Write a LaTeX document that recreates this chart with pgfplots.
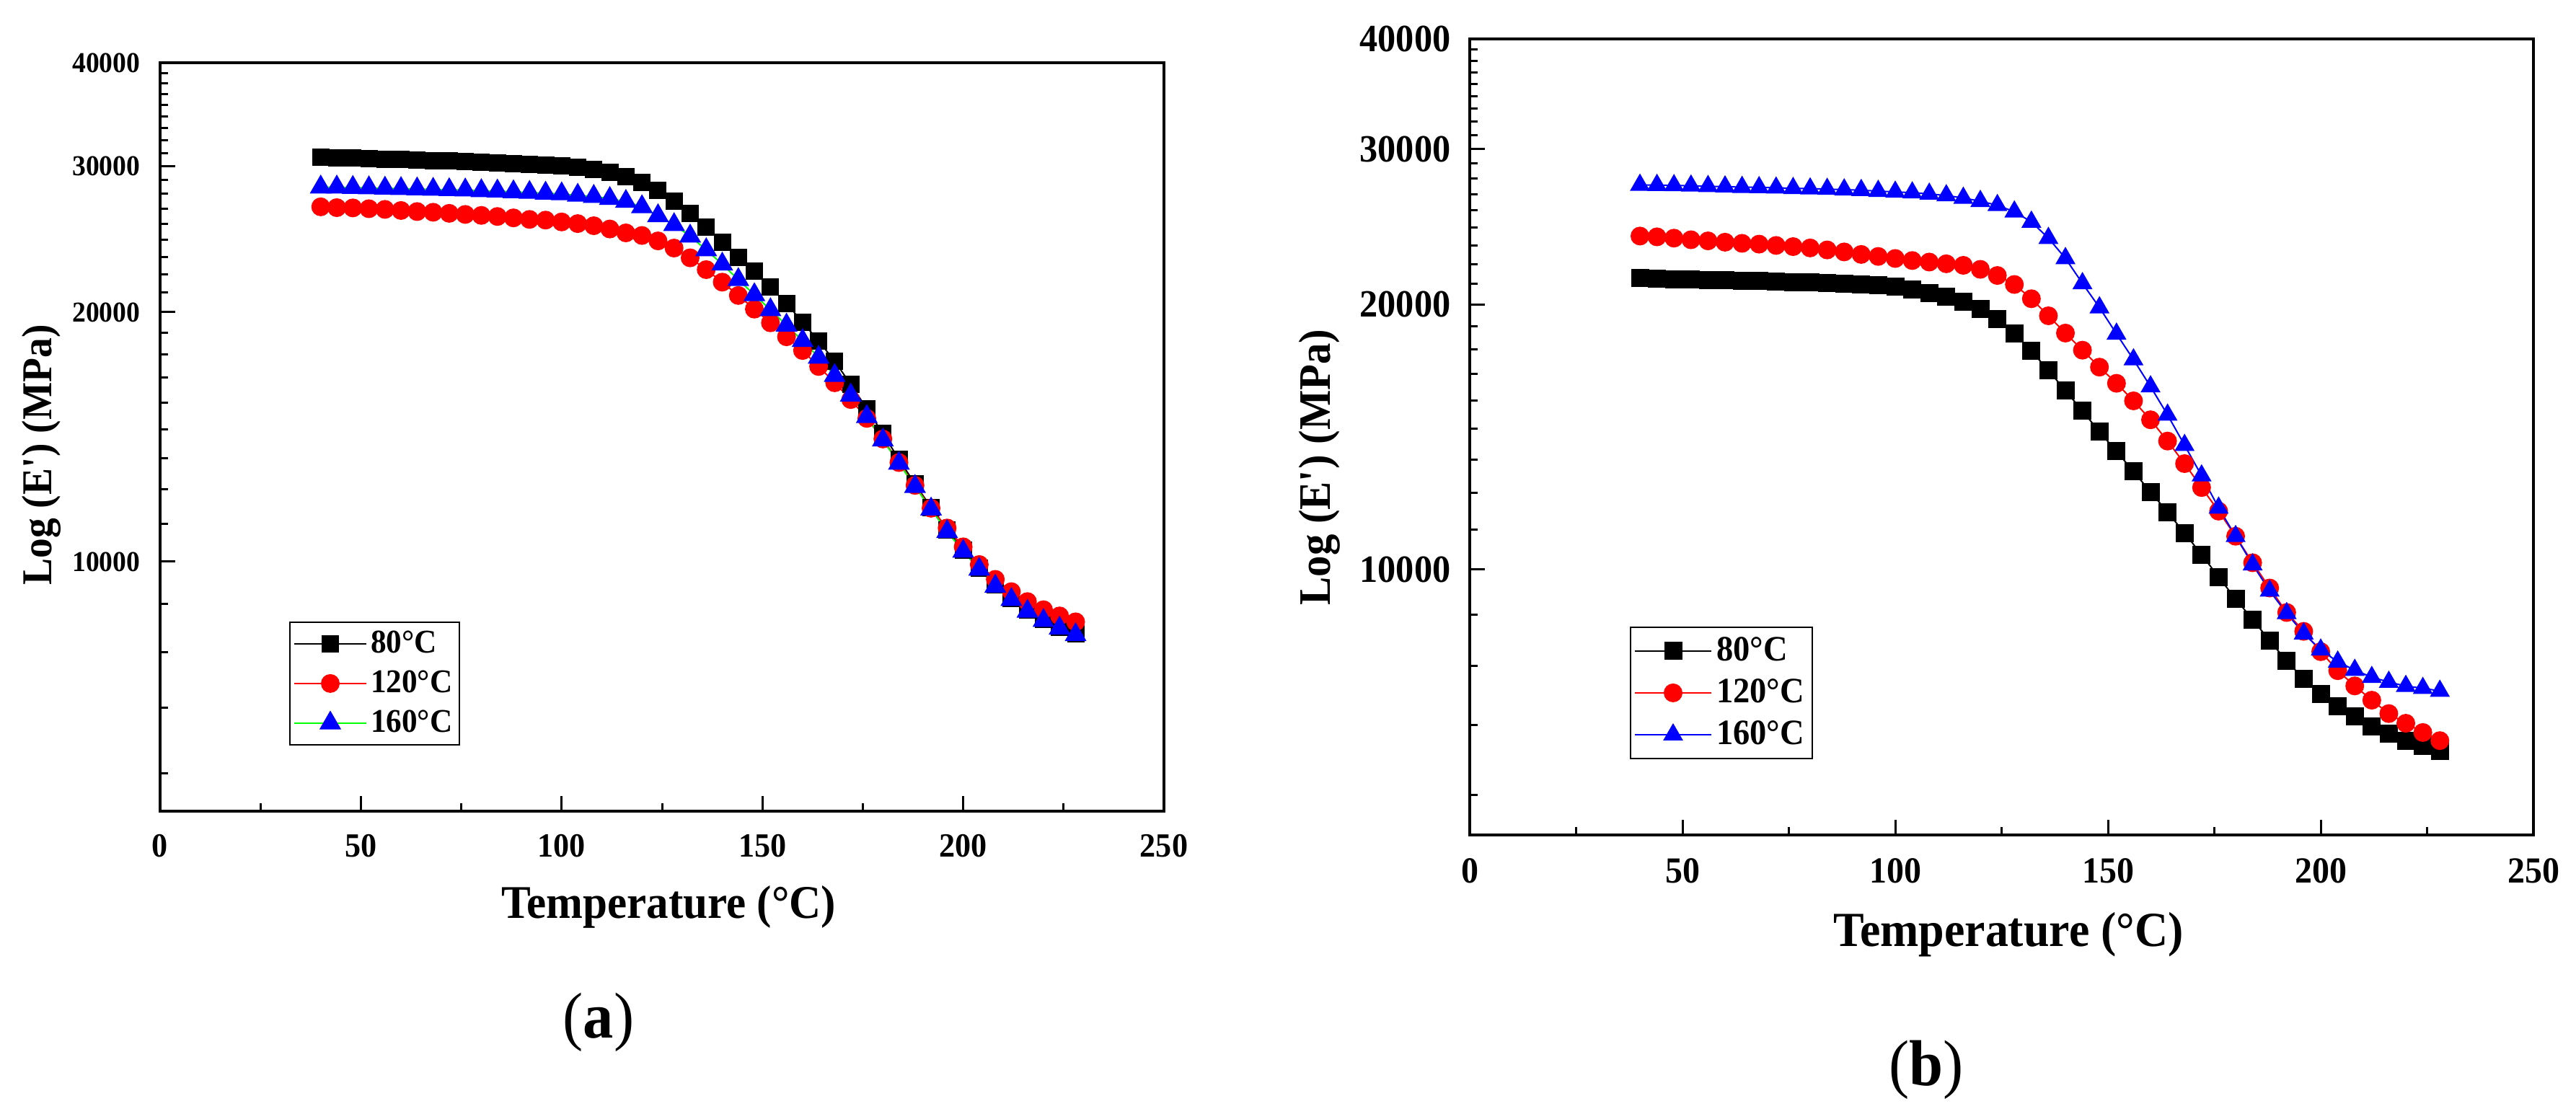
\documentclass[border=0pt]{standalone}
\usepackage{fontspec}
\setmainfont{Liberation Serif}[FakeStretch=0.94]
\usepackage{pgfplots}
\usepackage{pgfplotstable}
\pgfplotsset{compat=1.18}
\definecolor{cgreen}{RGB}{0,255,0}
\definecolor{cred}{RGB}{255,0,0}
\definecolor{cblue}{RGB}{0,0,255}

\pgfplotstableread{
x   a80   a120  a160  b80   b120  b160
40  30750 26800 28310 21410 23900 27310
44  30720 26740 28310 21390 23850 27300
48  30690 26720 28280 21360 23770 27280
52  30660 26660 28250 21340 23670 27250
56  30610 26610 28220 21320 23600 27220
60  30570 26530 28190 21300 23520 27190
64  30520 26450 28160 21270 23450 27160
68  30470 26400 28130 21250 23400 27140
72  30430 26320 28100 21230 23320 27110
76  30390 26240 28080 21200 23250 27080
80  30340 26170 28020 21180 23170 27050
84  30300 26090 28000 21140 23050 27020
88  30230 25990 27940 21120 22930 26980
92  30170 25880 27890 21070 22780 26940
96  30110 25830 27830 21030 22660 26880
100 30020 25700 27780 20940 22540 26820
104 29900 25580 27670 20780 22420 26770
108 29720 25430 27580 20610 22330 26680
112 29490 25200 27420 20390 22230 26570
116 29170 24930 27200 20140 22140 26400
120 28680 24750 26800 19760 21910 26180
124 28050 24380 26140 19240 21560 25900
128 27250 23900 25500 18540 21060 25470
132 26320 23260 24700 17700 20290 24800
136 25310 22510 23780 16830 19410 23770
140 24280 21740 22850 15960 18550 22550
144 23310 20950 21890 15140 17740 21120
148 22400 20170 20990 14330 16970 19830
152 21440 19420 20130 13620 16270 18510
156 20480 18680 19290 12920 15540 17310
160 19460 17980 18480 12250 14790 16130
164 18460 17200 17640 11620 13990 14980
168 17460 16440 16770 11000 13190 13840
172 16360 15690 15880 10400 12390 12780
176 15300 14890 14960 9810  11650 11750
180 14270 14060 14020 9260  10910 10910
184 13290 13170 13140 8780  10180 10130
188 12410 12360 12320 8305  9530  9460
192 11630 11600 11570 7877  8940  8920
196 10930 10980 10870 7518  8510  8460
200 10320 10420 10290 7222  8070  8110
204 9820  9920  9790  6997  7680  7860
208 9370  9520  9340  6814  7380  7693
212 9030  9200  9000  6637  7110  7550
216 8740  8950  8710  6513  6865  7455
220 8520  8750  8490  6397  6694  7376
224 8340  8600  8310  6309  6534  7337
228 8190  8460  8160  6229  6397  7283
}\data

\pgfplotsset{
  every axis/.append style={
    scale only axis,
    xmin=0, xmax=250,
    ymin=5000, ymax=40000,
    axis line style={line width=0.66pt},
    tick style={black, line width=0.6pt},
    major tick length=4.2pt, minor tick length=2.2pt,
    tick align=inside, tick pos=left,
    xtick={0,50,100,150,200,250},
    xticklabels={0,50,100,150,200,250},
    minor xtick={25,75,125,175,225},
    ytick={10000,20000,30000,40000},
    yticklabels={10000,20000,30000,40000},
    minor ytick={5555.6,6666.7,7777.8,8888.9,11111,12222,13333,14444,15556,16667,17778,18889,21111,22222,23333,24444,25556,26667,27778,28889,31111,32222,33333,34444,35556,36667,37778,38889},
    legend cell align=left,
  }
}

\begin{document}
\begin{tikzpicture}
\useasboundingbox (0,0) rectangle (714.4pt,308.8pt);

% ---------- panel (a) ----------
\begin{semilogyaxis}[
  at={(44.4pt,83.8pt)}, anchor=south west,
  width=278.4pt, height=207.6pt,
  xticklabel style={font=\fontsize{9.4}{10}\selectfont\bfseries, yshift=-2.9pt},
  yticklabel style={font=\fontsize{8}{9}\selectfont\bfseries, xshift=-2pt},
  xlabel={Temperature (°C)},
  xlabel style={font=\fontsize{13}{15}\selectfont\bfseries, at={(axis description cs:0.5065,-0.128)}, anchor=center},
  ylabel={Log (E\textquotesingle) (MPa)},
  ylabel style={font=\fontsize{11.8}{13}\selectfont\bfseries, at={(axis description cs:-0.1185,0.476)}, anchor=center},
  legend image code/.code={\draw[mark repeat=2,mark phase=2] plot coordinates {(0pt,0pt) (10pt,0pt) (20pt,0pt)};},
  legend style={at={(0.1286,0.2534)}, anchor=north west,
    draw=black, line width=0.4pt, fill=white,
    inner xsep=1pt, inner ysep=0.5pt, row sep=0pt,
    font=\fontsize{9.2}{10}\selectfont\bfseries,
    nodes={inner xsep=1pt, inner ysep=1.5pt, text height=6.5pt, text depth=1.5pt}},
]
\addplot[black, line width=0.4pt, mark=square*, mark size=2.2pt] table[x=x, y=a80] {\data};
\addlegendentry{80°C}
\addplot[cred, line width=0.4pt, mark=*, mark size=2.4pt] table[x=x, y=a120] {\data};
\addlegendentry{120°C}
\addplot[cgreen, line width=0.4pt, mark=triangle*, mark size=3.1pt, mark options={draw=cblue, fill=cblue}] table[x=x, y=a160] {\data};
\addlegendentry{160°C}
\end{semilogyaxis}

% ---------- panel (b) ----------
\begin{semilogyaxis}[
  at={(407.6pt,77.2pt)}, anchor=south west,
  width=295pt, height=220.8pt,
  xticklabel style={font=\fontsize{10.2}{11}\selectfont\bfseries, yshift=-3pt},
  yticklabel style={font=\fontsize{10.7}{12}\selectfont\bfseries, xshift=-1.8pt},
  xlabel={Temperature (°C)},
  xlabel style={font=\fontsize{13.6}{15}\selectfont\bfseries, at={(axis description cs:0.5064,-0.125)}, anchor=center},
  ylabel={Log (E\textquotesingle) (MPa)},
  ylabel style={font=\fontsize{12.5}{14}\selectfont\bfseries, at={(axis description cs:-0.141,0.462)}, anchor=center},
  legend image code/.code={\draw[mark repeat=2,mark phase=2] plot coordinates {(0pt,0pt) (10.6pt,0pt) (21.2pt,0pt)};},
  legend style={at={(0.1505,0.2618)}, anchor=north west,
    draw=black, line width=0.4pt, fill=white,
    inner xsep=1pt, inner ysep=0.8pt, row sep=0pt,
    font=\fontsize{9.9}{11}\selectfont\bfseries,
    nodes={inner xsep=1.2pt, inner ysep=1.5pt, text height=7pt, text depth=1.6pt}},
]
\addplot[black, line width=0.4pt, mark=square*, mark size=2.3pt] table[x=x, y=b80] {\data};
\addlegendentry{80°C}
\addplot[cred, line width=0.4pt, mark=*, mark size=2.4pt] table[x=x, y=b120] {\data};
\addlegendentry{120°C}
\addplot[cblue, line width=0.4pt, mark=triangle*, mark size=2.8pt, mark options={draw=cblue, fill=cblue}] table[x=x, y=b160] {\data};
\addlegendentry{160°C}
\end{semilogyaxis}

\node[font=\fontsize{18}{20}\selectfont] at (166pt,25.2pt) {(\textbf{a})};
\node[font=\fontsize{18}{20}\selectfont] at (534.2pt,12pt) {(\textbf{b})};
\end{tikzpicture}
\end{document}
